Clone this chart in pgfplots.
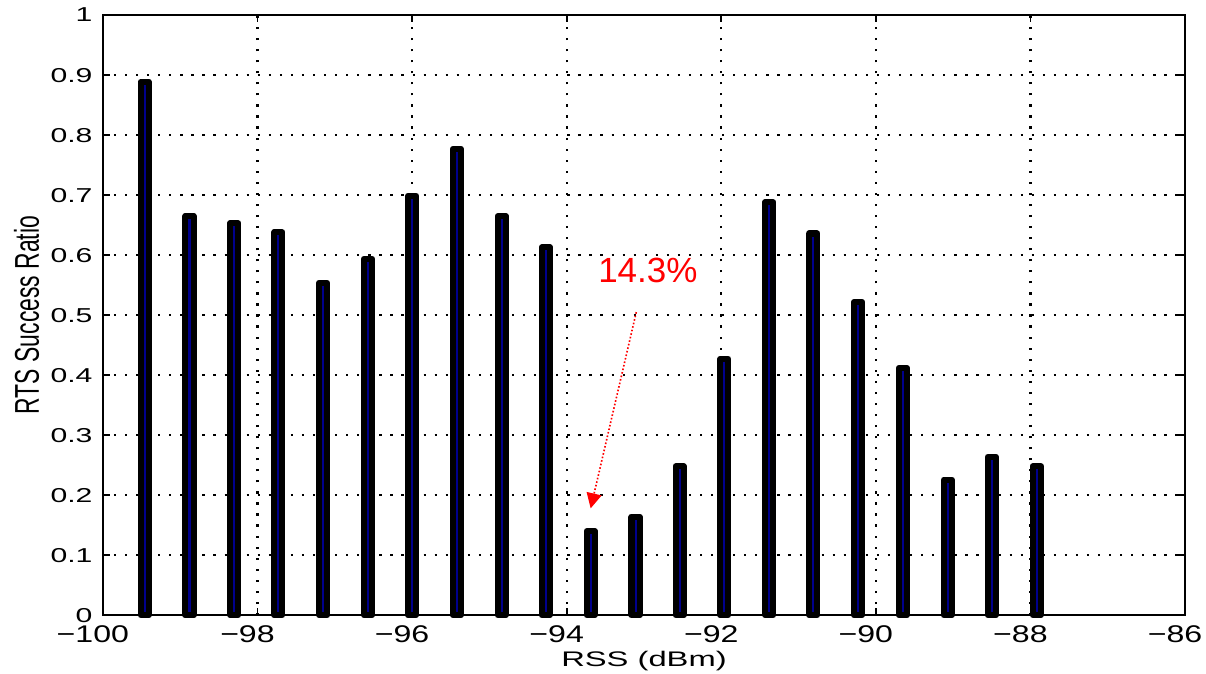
\documentclass[border=0pt]{standalone}
\usepackage{graphicx}
\usepackage{pgfplots}
\pgfplotsset{compat=1.18}
\usepackage{fontspec}
\setmainfont{Liberation Sans}
\usetikzlibrary{arrows.meta}
\newcommand\sx[1]{\scalebox{1.33}[1]{#1}}
\newcommand\sy[1]{\scalebox{1.5}[1]{#1}}
\begin{document}
\begin{tikzpicture}
\begin{axis}[
  scale only axis,
  width=538.3pt, height=298.5pt,
  xmin=-100, xmax=-86, ymin=0, ymax=1,
  xtick={-100,-98,...,-86},
  xticklabels={\sx{−100},\sx{−98},\sx{−96},\sx{−94},\sx{−92},\sx{−90},\sx{−88},\sx{−86}},
  ytick={0,0.1,...,1},
  yticklabels={\sy{0},\sy{0.1},\sy{0.2},\sy{0.3},\sy{0.4},\sy{0.5},\sy{0.6},\sy{0.7},\sy{0.8},\sy{0.9},\sy{1}},
  tick align=inside,
  major tick length=3.5pt,
  axis line style={line width=1pt},
  every tick/.style={black, line width=0.9pt},
  grid=major,
  major grid style={black, line width=1.1pt, dash pattern=on 1.1pt off 4.4pt},
  xticklabel style={font=\fontsize{12}{14}\selectfont, inner sep=0pt, yshift=-5pt, xshift=-5pt},
  yticklabel style={font=\fontsize{10}{12}\selectfont, inner sep=0pt, xshift=-5pt},
  clip=false,
]
\addplot[ybar, bar width=4pt, draw=black, line width=3pt, fill={rgb,255:red,0;green,0;blue,140}, line join=round] coordinates {
(-99.46,0.889) (-98.88,0.665) (-98.30,0.653) (-97.73,0.638) (-97.15,0.554)
(-96.57,0.594) (-96.00,0.699) (-95.42,0.777) (-94.84,0.665) (-94.27,0.613)
(-93.69,0.140) (-93.11,0.164) (-92.54,0.248) (-91.96,0.427) (-91.38,0.688)
(-90.81,0.636) (-90.23,0.522) (-89.65,0.412) (-89.07,0.226) (-88.50,0.264)
(-87.92,0.248)
};
\node[text=red, font=\fontsize{17.4}{20}\selectfont, inner sep=0pt] at (axis cs:-92.95,0.574) {14.3\%};
\draw[red, densely dotted, line width=0.8pt, -{Triangle[length=7.5pt,width=7.5pt]}] (axis cs:-93.10,0.505) -- (axis cs:-93.69,0.178);
\coordinate (SW) at (rel axis cs:0,0);
\coordinate (NE) at (rel axis cs:1,1);
\coordinate (BOT) at (rel axis cs:0.5,0);
\coordinate (LFT) at (rel axis cs:0,0.5);
\end{axis}
\node[anchor=base, inner sep=0pt, font=\fontsize{10.5}{12}\selectfont] at ([yshift=-25.7pt]BOT) {\scalebox{1.55}[1]{RSS (dBm)}};
\node[rotate=90, inner sep=0pt, font=\fontsize{11.4}{13}\selectfont] at ([xshift=-38pt]LFT) {\scalebox{1}[1.5]{RTS Success Ratio}};
\pgfresetboundingbox
\path ([xshift=-51.2pt,yshift=-28.9pt]SW) rectangle ([xshift=10.4pt,yshift=7.5pt]NE);
\end{tikzpicture}
\end{document}
